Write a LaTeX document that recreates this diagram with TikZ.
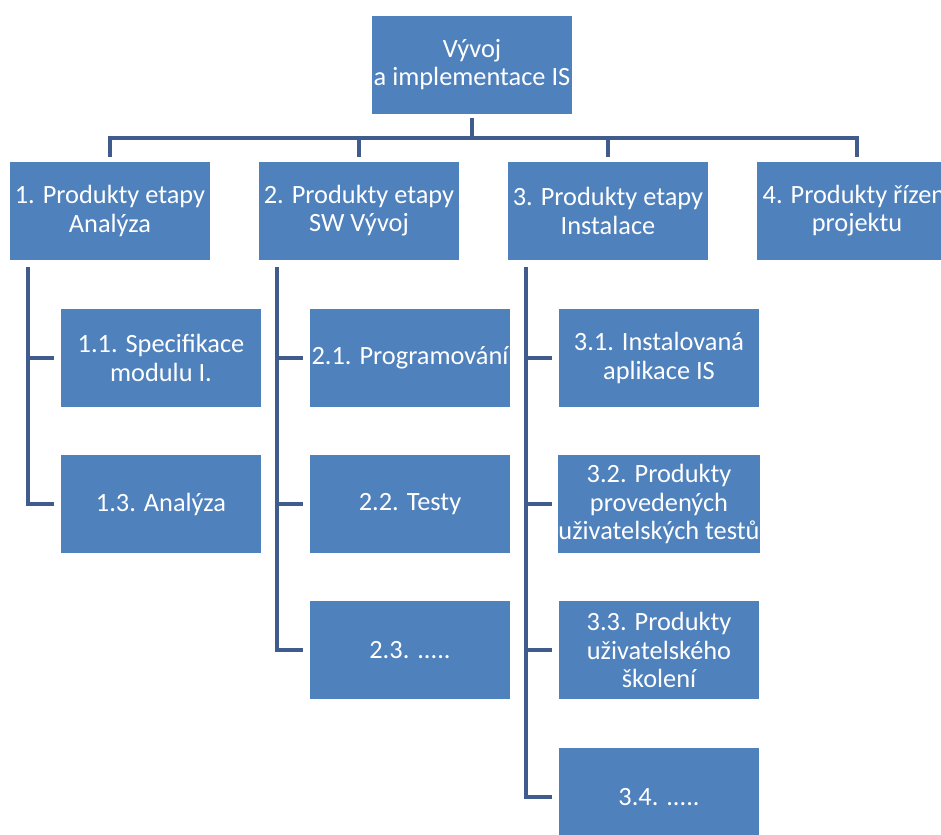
\documentclass[tikz,border=0pt]{standalone}
\usepackage{fontspec}
\setmainfont{Carlito}
\definecolor{boxblue}{RGB}{79,129,189}
\definecolor{linkblue}{RGB}{64,92,140}

\begin{document}
\begin{tikzpicture}[x=0.02cm,y=-0.02cm,
  box/.style={fill=boxblue,text=white,minimum width=4.02cm,minimum height=1.96cm,
    inner sep=0pt,align=center,font=\fontsize{15}{16}\selectfont},
  link/.style={draw=linkblue,line width=0.07cm}]
\useasboundingbox[fill=white] (0,0) rectangle (941,835);
\clip (0,0) rectangle (941,835);
% top
\node[box] (top) at (472,65) {Vývoj\\a implementace IS};
% level 1
\node[box] (p1) at (110,211) {1. Produkty etapy\\Analýza};
\node[box] (p2) at (359,211) {2. Produkty etapy\\SW Vývoj};
\node[box] (p3) at (608,211) {3. Produkty etapy\\Instalace};
\node[box] (p4) at (857,211) {4. Produkty řízení\\projektu};
% level 2
\node[box] (a11) at (161,358) {1.1. Specifikace\\modulu I.};
\node[box] (a13) at (161,504) {1.3. Analýza};
\node[box] (b21) at (410,358) {2.1. Programování};
\node[box] (b22) at (410,504) {2.2. Testy};
\node[box] (b23) at (410,650) {2.3. .....};
\node[box] (c31) at (659,358) {3.1. Instalovaná\\aplikace IS};
\node[box] (c32) at (659,504) {3.2. Produkty\\provedených\\uživatelských testů};
\node[box] (c33) at (659,650) {3.3. Produkty\\uživatelského\\školení};
\node[box] (c34) at (659,797) {3.4. .....};
% connectors
\coordinate (bus) at (472,138);
\coordinate (t1) at (28,267);
\coordinate (t2) at (277,267);
\coordinate (t3) at (526,267);
\draw[link,shorten <=0.08cm] (top) -- (top |- bus);
\draw[link,shorten <=0.1cm,shorten >=0.1cm] (p1) -- (p1 |- bus) -- (p4 |- bus) -- (p4);
\draw[link,shorten >=0.1cm] (p2 |- bus) -- (p2);
\draw[link,shorten >=0.1cm] (p3 |- bus) -- (p3);
\draw[link,shorten >=0.12cm] (t1) |- (a13);
\draw[link,shorten >=0.12cm] (t1 |- a11) -- (a11);
\draw[link,shorten >=0.12cm] (t2) |- (b23);
\draw[link,shorten >=0.12cm] (t2 |- b21) -- (b21);
\draw[link,shorten >=0.12cm] (t2 |- b22) -- (b22);
\draw[link,shorten >=0.12cm] (t3) |- (c34);
\draw[link,shorten >=0.12cm] (t3 |- c31) -- (c31);
\draw[link,shorten >=0.12cm] (t3 |- c32) -- (c32);
\draw[link,shorten >=0.12cm] (t3 |- c33) -- (c33);
\end{tikzpicture}
\end{document}
